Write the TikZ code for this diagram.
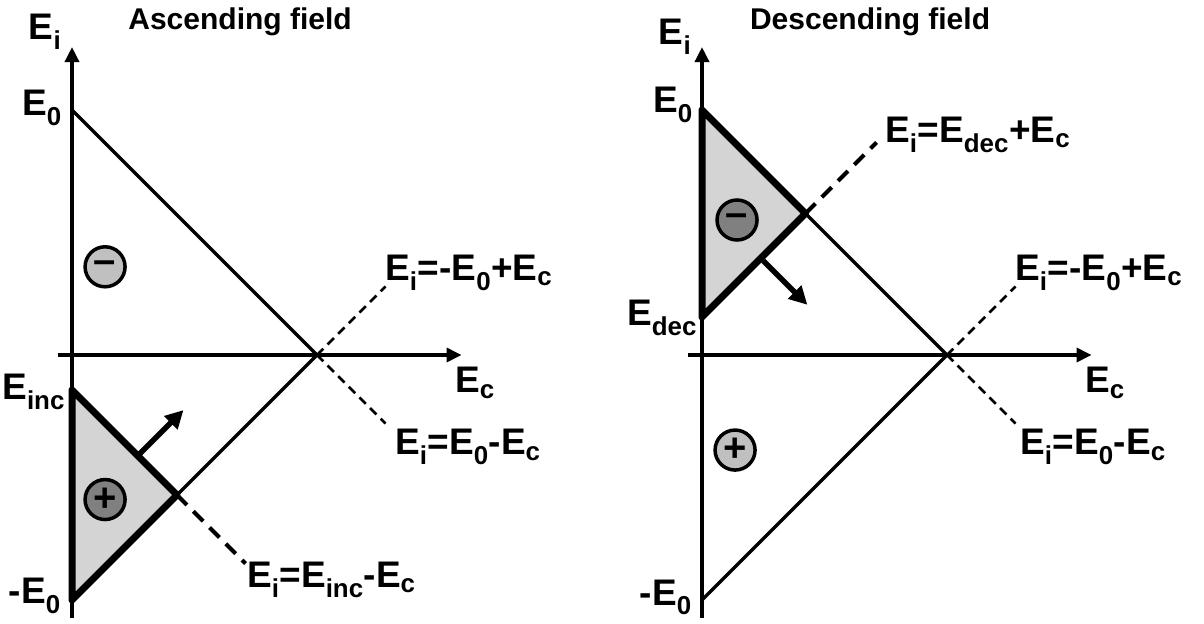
\documentclass[tikz,border=0pt]{standalone}
\usepackage{fontspec}
\setmainfont{Liberation Sans}
\usetikzlibrary{arrows.meta,positioning}
\definecolor{zonegray}{RGB}{212,212,212}
\definecolor{ionlight}{RGB}{192,192,192}
\definecolor{iondark}{RGB}{128,128,128}

\tikzset{
  axis/.style={line width=3.5pt, -{Triangle[length=15pt,width=14pt]}},
  branch/.style={line width=3.5pt},
  zone/.style={line width=7pt, line join=round, fill=zonegray},
  ext/.style={line width=2.5pt, dash pattern=on 9pt off 6pt},
  extthick/.style={line width=4pt, dash pattern=on 14pt off 9pt},
  move/.style={line width=5.5pt, -{Triangle[length=18pt,width=18pt]}},
  ion/.style={circle, draw, line width=3.5pt, minimum size=40pt, inner sep=0pt,
    font=\fontsize{40}{40}\selectfont\bfseries},
  lab/.style={inner sep=0pt, font=\fontsize{37}{40}\selectfont\bfseries},
  ttl/.style={inner sep=0pt, font=\fontsize{30}{34}\selectfont\bfseries}
}

\begin{document}
\begin{tikzpicture}[x=245pt,y=245pt]
% frame: 1 unit = E0 = 245px, origin at the left crossing of the axes
\useasboundingbox (-0.2939,-1.0939) rectangle (4.6204,1.449);
\def\einc{-0.143}
\def\edec{0.155}

% ---------------- Ascending field ----------------
\begin{scope}
\coordinate (aO) at (0,0);
\coordinate (aYt) at (0,1.257);
\coordinate (aYb) at (0,-1.073);
\coordinate (aXl) at (-0.057,0);
\coordinate (aXr) at (1.59,0);
\coordinate (aE) at (0,1);
\coordinate (amE) at (0,-1);
\coordinate (aC) at (1,0);
\coordinate (aInc) at (0,\einc);
\coordinate (aTip) at ({(1+\einc)/2},{(\einc-1)/2});
\coordinate (aUp) at (1.28,0.28);
\coordinate (aDn) at (1.28,-0.28);
\coordinate (aExt) at ({(1+\einc)/2+0.28},{(\einc-1)/2-0.28});
\coordinate (aMs) at (0.27,-0.41);
\coordinate (aMe) at (0.455,-0.225);

% region
\fill[zonegray] (aInc) -- (aTip) -- (amE) -- cycle;

% axes
\draw[axis] (aYb) -- (aYt);
\draw[axis] (aXl) -- (aXr);

% branches
\draw[branch] (aE) -- (aC);
\draw[branch] (amE) -- (aC);
\draw[ext] (aC) -- (aUp);
\draw[ext] (aC) -- (aDn);
\draw[extthick] (aTip) -- (aExt);
\draw[zone, fill=none] (aInc) -- (aTip) -- (amE) -- cycle;
\draw[move] (aMs) -- (aMe);

% ions
\node[ion, fill=ionlight] (aNeg) at (0.135,0.36) {–};
\node[ion, fill=iondark] (aPos) at (0.135,-0.59) {\raisebox{-2pt}{+}};

% labels
\node[ttl] (aTitle) at (0.686,1.359) {Ascending field};
\node[lab] (aEi) at (-0.11,1.318) {E\textsubscript{i}};
\node[lab, anchor=east] (aE0) at (-0.041,1.008) {E\textsubscript{0}};
\node[lab, anchor=east] (aEinc) at (-0.028,-0.151) {E\textsubscript{inc}};
\node[lab, anchor=east] (amE0) at (-0.045,-0.984) {-E\textsubscript{0}};
\node[lab] (aEc) at (1.645,-0.114) {E\textsubscript{c}};
\node[lab, anchor=west] (aL1) at (1.278,0.335) {E\textsubscript{i}=-E\textsubscript{0}+E\textsubscript{c}};
\node[lab, anchor=west] (aL2) at (1.318,-0.376) {E\textsubscript{i}=E\textsubscript{0}-E\textsubscript{c}};
\node[lab, anchor=west] (aL3) at (0.714,-0.918) {E\textsubscript{i}=E\textsubscript{inc}-E\textsubscript{c}};
\end{scope}

% ---------------- Descending field ----------------
\begin{scope}[xshift=630pt]
\coordinate (dO) at (0,0);
\coordinate (dYt) at (0,1.257);
\coordinate (dYb) at (0,-1.073);
\coordinate (dXl) at (-0.057,0);
\coordinate (dXr) at (1.59,0);
\coordinate (dE) at (0,1);
\coordinate (dmE) at (0,-1);
\coordinate (dC) at (1,0);
\coordinate (dDec) at (0,\edec);
\coordinate (dTip) at ({(1-\edec)/2},{(1+\edec)/2});
\coordinate (dUp) at (1.28,0.28);
\coordinate (dDn) at (1.28,-0.28);
\coordinate (dExt) at ({(1-\edec)/2+0.29},{(1+\edec)/2+0.29});
\coordinate (dMs) at (0.25,0.385);
\coordinate (dMe) at (0.43,0.205);

% region
\fill[zonegray] (dE) -- (dTip) -- (dDec) -- cycle;

% axes
\draw[axis] (dYb) -- (dYt);
\draw[axis] (dXl) -- (dXr);

% branches
\draw[branch] (dE) -- (dC);
\draw[branch] (dmE) -- (dC);
\draw[ext] (dC) -- (dUp);
\draw[ext] (dC) -- (dDn);
\draw[extthick] (dTip) -- (dExt);
\draw[zone, fill=none] (dE) -- (dTip) -- (dDec) -- cycle;
\draw[move] (dMs) -- (dMe);

% ions
\node[ion, fill=iondark] (dNeg) at (0.143,0.551) {–};
\node[ion, fill=ionlight] (dPos) at (0.135,-0.388) {\raisebox{-2pt}{+}};

% labels
\node[ttl] (dTitle) at (0.686,1.359) {Descending field};
\node[lab] (dEi) at (-0.11,1.30) {E\textsubscript{i}};
\node[lab, anchor=east] (dE0) at (-0.037,1.02) {E\textsubscript{0}};
\node[lab, anchor=east] (dEdec) at (-0.02,0.151) {E\textsubscript{dec}};
\node[lab, anchor=east] (dmE0) at (-0.041,-0.99) {-E\textsubscript{0}};
\node[lab] (dEc) at (1.645,-0.114) {E\textsubscript{c}};
\node[lab, anchor=west] (dL1) at (0.747,0.898) {E\textsubscript{i}=E\textsubscript{dec}+E\textsubscript{c}};
\node[lab, anchor=west] (dL2) at (1.278,0.335) {E\textsubscript{i}=-E\textsubscript{0}+E\textsubscript{c}};
\node[lab, anchor=west] (dL3) at (1.298,-0.376) {E\textsubscript{i}=E\textsubscript{0}-E\textsubscript{c}};
\end{scope}
\end{tikzpicture}
\end{document}
